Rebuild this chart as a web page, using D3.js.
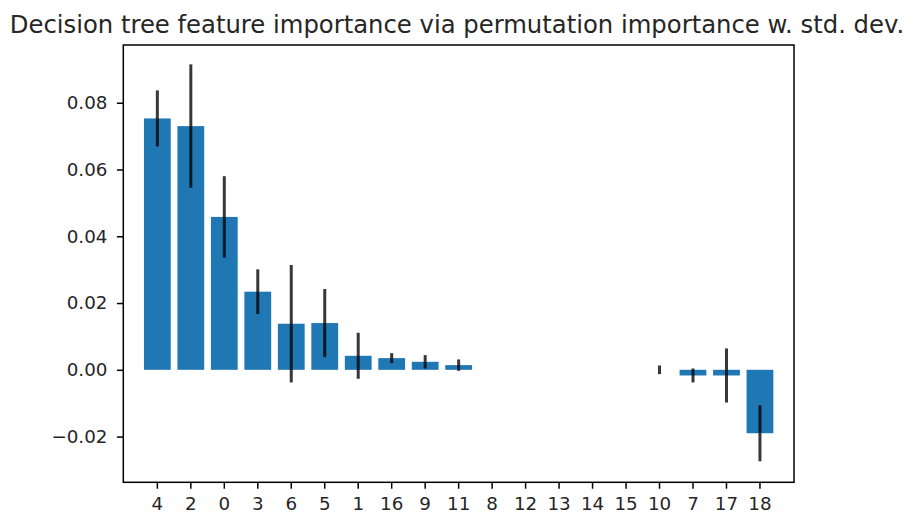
<!DOCTYPE html>
<html>
<head>
<meta charset="utf-8">
<script src="https://cdn.jsdelivr.net/npm/d3@7"></script>
<style>
  html, body { margin: 0; padding: 0; background: #fff; }
  svg { display: block; font-family: "DejaVu Sans", sans-serif; }
</style>
</head>
<body>
<svg id="chart" width="904" height="514"></svg>
<script>
// Permutation importance per feature (sorted by mean), with standard deviation
const features = ["4", "2", "0", "3", "6", "5", "1", "16", "9", "11", "8", "12", "13", "14", "15", "10", "7", "17", "18"];
const importances = [0.0753, 0.0730, 0.0458, 0.0234, 0.0138, 0.0140, 0.0042, 0.0035, 0.0024, 0.0014, 0, 0, 0, 0, 0, 0, -0.0017, -0.0017, -0.0190];
const stds = [0.0084, 0.0185, 0.0122, 0.0067, 0.0176, 0.0102, 0.0069, 0.0015, 0.0020, 0.0017, 0, 0, 0, 0, 0, 0.0013, 0.0021, 0.0081, 0.0084];
const yTicks = [-0.02, 0, 0.02, 0.04, 0.06, 0.08];
const title = "Decision tree feature importance via permutation importance w. std. dev.";

const svg = d3.select("#chart");
const plot = { left: 123.3, right: 794, top: 45, bottom: 482.3 };

const x = d3.scaleBand()
  .domain(features)
  .range([plot.left, plot.right])
  .paddingInner(0.2)
  .paddingOuter(0.617);

const y = d3.scaleLinear()
  .domain([-0.0337, 0.0973])
  .range([plot.bottom, plot.top]);

// Bars
svg.append("g")
  .selectAll("rect")
  .data(features.filter((d, i) => importances[i] !== 0))
  .join("rect")
  .attr("x", d => x(d))
  .attr("width", x.bandwidth())
  .attr("y", d => y(Math.max(0, importances[features.indexOf(d)])))
  .attr("height", d => Math.abs(y(importances[features.indexOf(d)]) - y(0)))
  .attr("fill", "#1f77b4");

// Error bars
svg.append("g")
  .selectAll("line")
  .data(features.filter((d, i) => stds[i] > 0))
  .join("line")
  .attr("x1", d => x(d) + x.bandwidth() / 2)
  .attr("x2", d => x(d) + x.bandwidth() / 2)
  .attr("y1", d => { const i = features.indexOf(d); return y(importances[i] + stds[i]); })
  .attr("y2", d => { const i = features.indexOf(d); return y(importances[i] - stds[i]); })
  .attr("stroke", "#000")
  .attr("stroke-opacity", 0.78)
  .attr("stroke-width", 3);

// Axes
const fmt = v => d3.format(".2f")(v).replace("-", "\u2212");

const yAxis = svg.append("g")
  .attr("transform", `translate(${plot.left},0)`)
  .call(d3.axisLeft(y).tickValues(yTicks).tickFormat(fmt).tickSize(6.4).tickPadding(9.5));

const xAxis = svg.append("g")
  .attr("transform", `translate(0,${plot.bottom})`)
  .call(d3.axisBottom(x).tickSize(6.4).tickPadding(8.5));

[yAxis, xAxis].forEach(g => {
  g.select(".domain").remove();
  g.selectAll(".tick line").attr("stroke", "#000").attr("stroke-width", 1.5);
  g.selectAll(".tick text")
    .attr("fill", "#262626")
    .style("font-family", "'DejaVu Sans', sans-serif")
    .style("font-size", "18.3px");
});

// Frame
svg.append("rect")
  .attr("x", plot.left)
  .attr("y", plot.top)
  .attr("width", plot.right - plot.left)
  .attr("height", plot.bottom - plot.top)
  .attr("fill", "none")
  .attr("stroke", "#000")
  .attr("stroke-width", 1.5);

// Title
svg.append("text")
  .attr("x", 457)
  .attr("y", 33)
  .attr("text-anchor", "middle")
  .attr("fill", "#262626")
  .style("font-size", "24.3px")
  .text(title);
</script>
</body>
</html>
